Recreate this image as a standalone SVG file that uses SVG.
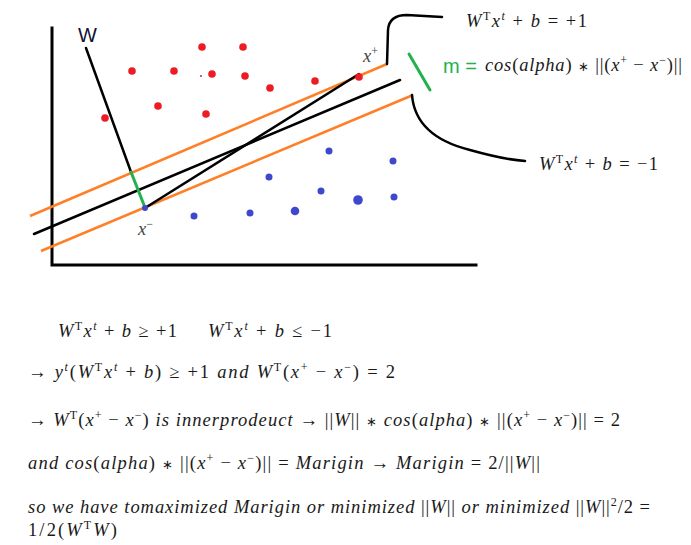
<svg xmlns="http://www.w3.org/2000/svg" width="691" height="545" viewBox="0 0 691 545">
<style>
.bg{fill:#fff}
.ax{stroke:#000;stroke-width:3;fill:none;stroke-linecap:square}
.bl{stroke:#000;stroke-width:2.5;fill:none;stroke-linecap:round}
.or{stroke:#ff7f27;stroke-width:2.5;fill:none}
.gr{stroke:#22b14c;stroke-width:3;fill:none;stroke-linecap:round}
.rd{fill:#ed1c24}
.bu{fill:#3f48cc}
.m{font-family:'Liberation Serif',serif;font-size:18.5px;fill:#1a1a1a}
.sans{font-family:'Liberation Sans',sans-serif}
.i{font-style:italic}
.s{font-size:12px}
.a{font-size:13px}
</style>
<rect class="bg" x="0" y="0" width="691" height="545"/>
<g id="axes">
<path class="ax" d="M52,28 L52,265 L476,265"/>
</g>
<g id="connectors">
<line class="or" x1="30" y1="216" x2="387" y2="64"/>
<line class="or" x1="41" y1="251" x2="413" y2="95"/>
<line class="bl" x1="34" y1="234" x2="400" y2="80"/>
<line class="bl" x1="145" y1="208" x2="359" y2="74"/>
<line class="bl" x1="86" y1="48" x2="131" y2="172"/>
<line class="gr" x1="131" y1="172" x2="144" y2="205"/>
<line class="gr" x1="409" y1="54" x2="430" y2="90"/>
<path class="bl" d="M387,64 L388,30 Q389,15 407,15 L442,17"/>
<path class="bl" d="M412,95 C414,120 430,140 470,150 C495,157 510,160 525,161"/>
</g>
<g id="red-points">
<circle class="rd" cx="202" cy="47" r="3.8"/>
<circle class="rd" cx="243" cy="47" r="3.8"/>
<circle class="rd" cx="132" cy="71" r="3.8"/>
<circle class="rd" cx="174" cy="71" r="3.8"/>
<circle class="rd" cx="212" cy="74" r="3.8"/>
<circle class="rd" cx="201" cy="76" r="1"/>
<circle class="rd" cx="245" cy="76" r="3.8"/>
<circle class="rd" cx="270" cy="88" r="3.8"/>
<circle class="rd" cx="315" cy="81" r="3.8"/>
<circle class="rd" cx="359" cy="77" r="3.8"/>
<circle class="rd" cx="158" cy="106" r="3.8"/>
<circle class="rd" cx="206" cy="114" r="3.8"/>
<circle class="rd" cx="105" cy="118" r="3.8"/>
</g>
<g id="blue-points">
<circle class="bu" cx="329" cy="151" r="3.5"/>
<circle class="bu" cx="393" cy="161" r="3.5"/>
<circle class="bu" cx="269" cy="177" r="3.5"/>
<circle class="bu" cx="321" cy="191" r="3.5"/>
<circle class="bu" cx="358" cy="200" r="4.8"/>
<circle class="bu" cx="394" cy="197" r="3.5"/>
<circle class="bu" cx="194" cy="216" r="3.5"/>
<circle class="bu" cx="250" cy="213" r="3.5"/>
<circle class="bu" cx="295" cy="211" r="4.3"/>
<circle class="bu" cx="145" cy="208" r="3"/>
</g>
<g id="labels">
<text class="sans" x="78" y="42" style="font-size:20px;fill:#111133">W</text>
<text class="m" x="363" y="62" style="fill:#444"><tspan class="i">x</tspan><tspan class="s" dy="-7">+</tspan></text>
<text class="m" x="138" y="235" style="fill:#444"><tspan class="i">x</tspan><tspan class="s" dy="-7">−</tspan></text>
<text class="sans" x="443" y="73" style="font-size:20px;fill:#22b14c">m =</text>
<text class="m" x="466" y="27" textLength="121" lengthAdjust="spacing"><tspan class="i">W</tspan><tspan class="s" dy="-7">T</tspan><tspan class="i" dy="7">x</tspan><tspan class="s i" dy="-7">t</tspan><tspan dy="7"> + </tspan><tspan class="i">b</tspan> = +1</text>
<text class="m" x="485" y="71" textLength="197" lengthAdjust="spacing"><tspan class="i">cos</tspan>(<tspan class="i">alpha</tspan>) <tspan class="a">∗</tspan> ||(<tspan class="i">x</tspan><tspan class="s" dy="-7">+</tspan><tspan dy="7"> − </tspan><tspan class="i">x</tspan><tspan class="s" dy="-7">−</tspan><tspan dy="7">)||</tspan></text>
<text class="m" x="539" y="170" textLength="119" lengthAdjust="spacing"><tspan class="i">W</tspan><tspan class="s" dy="-7">T</tspan><tspan class="i" dy="7">x</tspan><tspan class="s i" dy="-7">t</tspan><tspan dy="7"> + </tspan><tspan class="i">b</tspan> = −1</text>
</g>
<g id="equations">
<text class="m" x="58" y="337" textLength="119" lengthAdjust="spacing"><tspan class="i">W</tspan><tspan class="s" dy="-7">T</tspan><tspan class="i" dy="7">x</tspan><tspan class="s i" dy="-7">t</tspan><tspan dy="7"> + </tspan><tspan class="i">b</tspan> ≥ +1</text>
<text class="m" x="208" y="337" textLength="124" lengthAdjust="spacing"><tspan class="i">W</tspan><tspan class="s" dy="-7">T</tspan><tspan class="i" dy="7">x</tspan><tspan class="s i" dy="-7">t</tspan><tspan dy="7"> + </tspan><tspan class="i">b</tspan> ≤ −1</text>
<text class="m" x="28" y="378" textLength="367" lengthAdjust="spacing">→ <tspan class="i">y</tspan><tspan class="s i" dy="-7">t</tspan><tspan dy="7">(</tspan><tspan class="i">W</tspan><tspan class="s" dy="-7">T</tspan><tspan class="i" dy="7">x</tspan><tspan class="s i" dy="-7">t</tspan><tspan dy="7"> + </tspan><tspan class="i">b</tspan>) ≥ +1  <tspan class="i">and</tspan>  <tspan class="i">W</tspan><tspan class="s" dy="-7">T</tspan><tspan dy="7">(</tspan><tspan class="i">x</tspan><tspan class="s" dy="-7">+</tspan><tspan dy="7"> − </tspan><tspan class="i">x</tspan><tspan class="s" dy="-7">−</tspan><tspan dy="7">) = 2</tspan></text>
<text class="m" x="28" y="426" textLength="592" lengthAdjust="spacing">→ <tspan class="i">W</tspan><tspan class="s" dy="-7">T</tspan><tspan dy="7">(</tspan><tspan class="i">x</tspan><tspan class="s" dy="-7">+</tspan><tspan dy="7"> − </tspan><tspan class="i">x</tspan><tspan class="s" dy="-7">−</tspan><tspan dy="7">) </tspan><tspan class="i">is innerprodeuct</tspan> → ||<tspan class="i">W</tspan>|| <tspan class="a">∗</tspan> <tspan class="i">cos</tspan>(<tspan class="i">alpha</tspan>) <tspan class="a">∗</tspan> ||(<tspan class="i">x</tspan><tspan class="s" dy="-7">+</tspan><tspan dy="7"> − </tspan><tspan class="i">x</tspan><tspan class="s" dy="-7">−</tspan><tspan dy="7">)|| = 2</tspan></text>
<text class="m" x="28" y="469" textLength="512" lengthAdjust="spacing"><tspan class="i">and cos</tspan>(<tspan class="i">alpha</tspan>) <tspan class="a">∗</tspan> ||(<tspan class="i">x</tspan><tspan class="s" dy="-7">+</tspan><tspan dy="7"> − </tspan><tspan class="i">x</tspan><tspan class="s" dy="-7">−</tspan><tspan dy="7">)|| = </tspan><tspan class="i">Marigin</tspan> → <tspan class="i">Marigin</tspan> = 2/||<tspan class="i">W</tspan>||</text>
<text class="m" x="28" y="513" textLength="622" lengthAdjust="spacing"><tspan class="i">so we have tomaximized Marigin or minimized</tspan> ||<tspan class="i">W</tspan>|| <tspan class="i">or minimized</tspan> ||<tspan class="i">W</tspan>||<tspan class="s" dy="-7">2</tspan><tspan dy="7">/2 =</tspan></text>
<text class="m" x="28" y="536" textLength="89" lengthAdjust="spacing">1/2(<tspan class="i">W</tspan><tspan class="s" dy="-7">T</tspan><tspan class="i" dy="7">W</tspan>)</text>
</g>
</svg>
